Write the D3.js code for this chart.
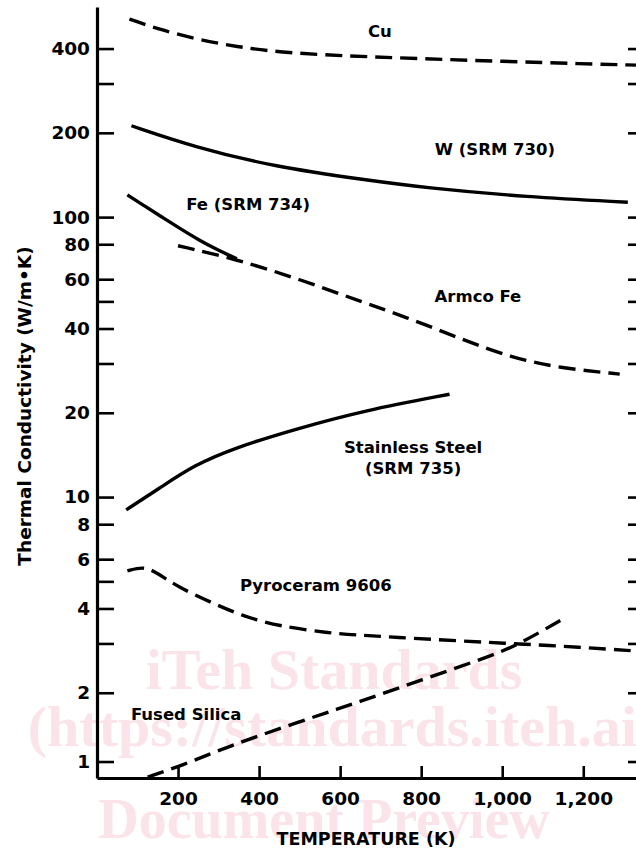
<!DOCTYPE html>
<html>
<head>
<meta charset="utf-8">
<script src="https://cdn.jsdelivr.net/npm/d3@7"></script>
<style>
  html, body { margin: 0; padding: 0; background: #fff; }
  svg { display: block; }
</style>
</head>
<body>
<div id="chart"></div>
<script>
// Values: [temperature K, conductivity W/m.K]
var cuData = [[80, 510], [150, 470], [250, 430], [350, 405], [450, 388], [600, 377], [800, 368], [1000, 360], [1200, 353], [1330, 349]];
var wData = [[85, 212], [240, 178], [440, 151], [660, 136], [815, 127], [1060, 118], [1310, 113]];
var feData = [[75, 120], [120, 109], [160, 100], [200, 92], [250, 83], [300, 76], [345, 71]];
var armcoData = [[200, 79], [340, 71], [500, 60], [650, 50], [775, 43.3], [900, 36.6], [1020, 31.6], [1140, 28.9], [1290, 27.5]];
var steelData = [[72, 9.0], [160, 10.9], [240, 13.0], [340, 15.0], [490, 17.5], [660, 20.4], [870, 23.3]];
var pyroData = [[75, 5.45], [115, 5.65], [145, 5.4], [200, 4.77], [285, 4.18], [365, 3.73], [450, 3.46], [570, 3.27], [650, 3.21], [730, 3.16], [900, 3.06], [1040, 2.99], [1190, 2.91], [1330, 2.82]];
var silicaData = [[125, 1.0], [210, 1.1], [320, 1.28], [490, 1.56], [650, 1.86], [815, 2.26], [980, 2.73], [1045, 3.0], [1150, 3.67]];

var series = [
    { name: "Cu", values: cuData, dashed: true },
    { name: "W (SRM 730)", values: wData, dashed: false },
    { name: "Fe (SRM 734)", values: feData, dashed: false },
    { name: "Armco Fe", values: armcoData, dashed: true },
    { name: "Stainless Steel (SRM 735)", values: steelData, dashed: false },
    { name: "Pyroceram 9606", values: pyroData, dashed: true },
    { name: "Fused Silica", values: silicaData, dashed: true }
];

// curve labels, anchored in data units [T, k]
var curveLabels = [
    { lines: ["Cu"], at: [698, 439] },
    { lines: ["W (SRM 730)"], at: [982, 166] },
    { lines: ["Fe (SRM 734)"], at: [373, 106] },
    { lines: ["Armco Fe"], at: [940, 49.7] },
    { lines: ["Stainless Steel", "(SRM 735)"], at: [780, 14.4] },
    { lines: ["Pyroceram 9606"], at: [540, 4.61] },
    { lines: ["Fused Silica"], at: [220, 1.6] }
];

var xTicks = [200, 400, 600, 800, 1000, 1200];
var yTicks = [400, 300, 200, 100, 80, 60, 50, 40, 30, 20, 10, 8, 6, 5, 4, 3, 2, 1];
var yLabelled = [400, 200, 100, 80, 60, 40, 20, 10, 8, 6, 4, 2, 1];

var xDomain = [0, 1340],
    yDomain = [0.992, 563];

var width = 636,
    height = 850,
    font = "'DejaVu Sans', sans-serif";

var svg = d3.select("#chart")
    .append("svg")
    .attr("width", width)
    .attr("height", height);

// Watermark (behind everything):
var wm = svg.append("g")
    .attr("font-family", "'Liberation Serif', 'Times New Roman', serif")
    .attr("font-weight", "bold")
    .attr("font-size", 58)
    .attr("fill", "#fbe4e9")
    .attr("text-anchor", "middle");
wm.append("text").attr("x", 334).attr("y", 689).text("iTeh Standards");
wm.append("text").attr("x", 342).attr("y", 746).text("(https://standards.iteh.ai)");
wm.append("text").attr("x", 324).attr("y", 838).attr("font-size", 56).text("Document Preview");

// Scales:
var x = d3.scaleLinear().domain(xDomain).range([97, 640]);
var y = d3.scaleLog().domain(yDomain).range([778, 7]);

// Curves:
var line = d3.line()
    .x(function (d) { return x(d[0]); })
    .y(function (d) { return y(d[1]); })
    .curve(d3.curveBasis);

svg.append("g").selectAll("path")
    .data(series)
    .enter().append("path")
    .attr("d", function (d) { return line(d.values); })
    .attr("fill", "none")
    .attr("stroke", "#000")
    .attr("stroke-width", 3.4)
    .attr("stroke-dasharray", function (d) { return d.dashed ? "17,8" : null; });

// Curve labels:
var labels = svg.append("g").selectAll("text")
    .data(curveLabels)
    .enter().append("text")
    .attr("font-family", font)
    .attr("font-weight", "bold")
    .attr("font-size", 16.5)
    .attr("text-anchor", "middle")
    .attr("transform", function (d) { return "translate(" + x(d.at[0]) + "," + y(d.at[1]) + ")"; });
labels.selectAll("tspan")
    .data(function (d) { return d.lines; })
    .enter().append("tspan")
    .attr("x", 0)
    .attr("y", function (d, i) { return i * 21; })
    .text(function (d) { return d; });

function styleAxis(g, size) {
    g.select(".domain").attr("stroke", "#000").attr("stroke-width", 3.2);
    g.selectAll(".tick line").attr("stroke", "#000").attr("stroke-width", 2.6);
    g.selectAll(".tick text")
        .attr("font-family", font)
        .attr("font-weight", "bold")
        .attr("font-size", size)
        .attr("fill", "#000");
}

// Left Axis:
var yAxis = svg.append("g")
    .attr("transform", "translate(" + x(xDomain[0]) + ",0)")
    .call(d3.axisLeft(y)
        .tickValues(yTicks)
        .tickSize(-17)
        .tickSizeOuter(0)
        .tickPadding(7)
        .tickFormat(function (d) { return yLabelled.indexOf(d) >= 0 ? d : ""; }))
    .call(styleAxis, 18.5);
// the lowest tick is lifted off the x axis in the original
yAxis.selectAll(".tick").filter(function (d) { return d === 1; })
    .attr("transform", "translate(0," + (y(1) - 15) + ")");

// Right Axis:
var rAxis = svg.append("g")
    .attr("transform", "translate(" + x(xDomain[1]) + ",0)")
    .call(d3.axisRight(y)
        .tickValues(yTicks)
        .tickSize(-12)
        .tickSizeOuter(0)
        .tickFormat(""))
    .call(styleAxis, 10);
rAxis.selectAll(".tick").filter(function (d) { return d === 1; })
    .attr("transform", "translate(0," + (y(1) - 15) + ")");

// Bottom Axis:
svg.append("g")
    .attr("transform", "translate(0," + y(yDomain[0]) + ")")
    .call(d3.axisBottom(x)
        .tickValues(xTicks)
        .tickSize(-12)
        .tickSizeOuter(0)
        .tickPadding(14)
        .tickFormat(d3.format(",")))
    .call(styleAxis, 18.5);

// Axis titles:
svg.append("text")
    .attr("x", 366)
    .attr("y", 845)
    .attr("text-anchor", "middle")
    .attr("font-family", font)
    .attr("font-weight", "bold")
    .attr("font-size", 17.5)
    .text("TEMPERATURE (K)");

svg.append("text")
    .attr("transform", "translate(31,406) rotate(-90)")
    .attr("text-anchor", "middle")
    .attr("font-family", font)
    .attr("font-weight", "bold")
    .attr("font-size", 18.5)
    .text("Thermal Conductivity (W/m\u2022K)");
</script>
</body>
</html>
